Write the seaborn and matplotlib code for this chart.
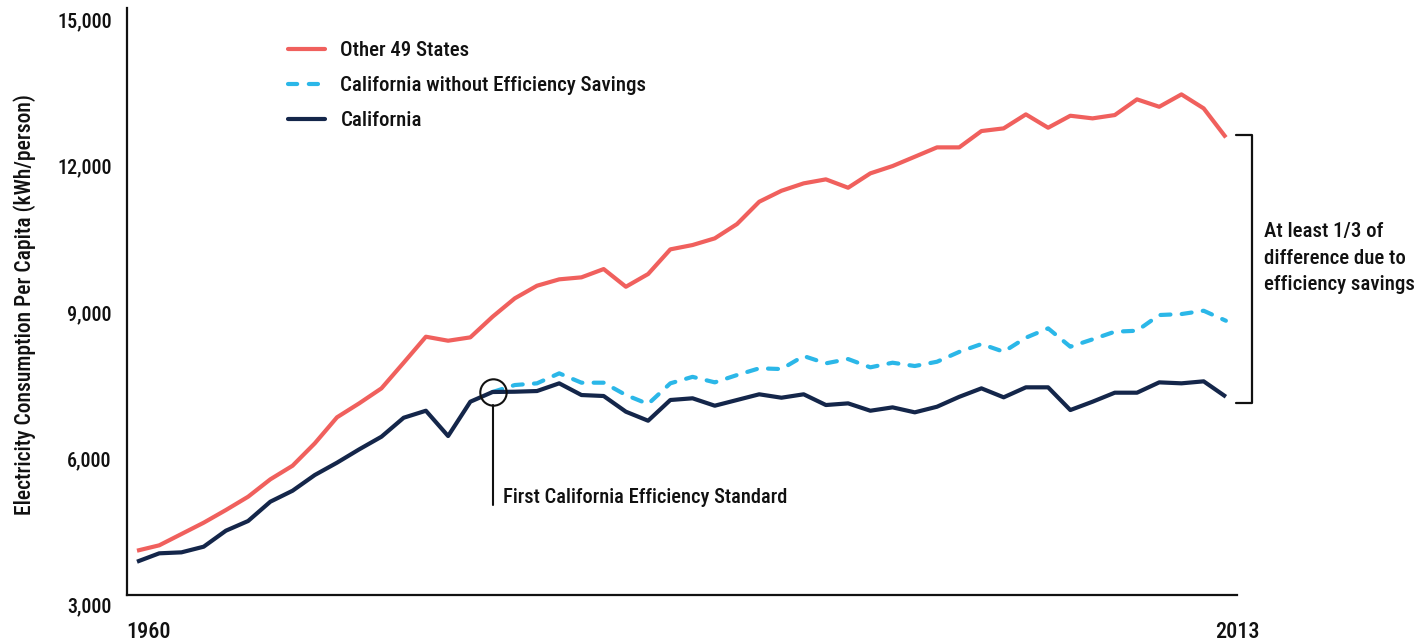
import numpy as np
import pandas as pd
import matplotlib
matplotlib.use("Agg")
import matplotlib.pyplot as plt
import seaborn as sns
from matplotlib.lines import Line2D
from matplotlib import font_manager as fm

# ---- data ----
idx = list(range(50))
other_states = [4114, 4224, 4456, 4688, 4948, 5221, 5578, 5857, 6316, 6850,
                7137, 7444, 7970, 8503, 8421, 8490, 8913, 9290, 9549, 9680,
                9721, 9891, 9528, 9789, 10295, 10384, 10521, 10814, 11272, 11497,
                11649, 11731, 11559, 11854, 12004, 12195, 12387, 12387, 12722, 12777,
                13064, 12790, 13036, 12982, 13050, 13372, 13220, 13474, 13187, 12592]
california = [3888, 4060, 4080, 4196, 4524, 4723, 5119, 5344, 5666, 5919,
              6193, 6452, 6841, 6985, 6466, 7170, 7369, 7375, 7389, 7547,
              7307, 7287, 6965, 6780, 7205, 7240, 7088, 7205, 7322, 7252,
              7322, 7102, 7136, 6985, 7054, 6952, 7067, 7270, 7444, 7260,
              7465, 7465, 6999, 7170, 7355, 7355, 7567, 7547, 7588, 7272]
ca_no_eff = [np.nan] * 16 + [7369, 7512, 7547, 7752, 7560, 7560, 7307, 7122, 7547,
             7680, 7567, 7717, 7855, 7840, 8107, 7957, 8045, 7875, 7970,
             7902, 7990, 8192, 8353, 8195, 8483, 8675, 8298, 8449, 8606,
             8626, 8948, 8968, 9036, 8831]
series_names = ["Other 49 States", "California without Efficiency Savings", "California"]
y_ticks = [3000, 6000, 9000, 12000, 15000]
x_tick_labels = ["1960", "2013"]

colors = {"Other 49 States": "#f0605d",
          "California without Efficiency Savings": "#2bb7e8",
          "California": "#14264a"}

df = pd.concat([
    pd.DataFrame({"idx": idx, "value": other_states, "series": series_names[0]}),
    pd.DataFrame({"idx": idx, "value": ca_no_eff, "series": series_names[1]}),
    pd.DataFrame({"idx": idx, "value": california, "series": series_names[2]}),
]).dropna()

sns.set_style("white")
names = {f.name for f in fm.fontManager.ttflist}
cands = ["Liberation Sans Narrow", "DejaVu Sans Condensed", "Roboto Condensed",
         "Open Sans Condensed", "Noto Sans Condensed", "DejaVu Sans"]
FONT = [c for c in cands if c in names] or ["DejaVu Sans"]
plt.rcParams["font.family"] = FONT
plt.rcParams["font.stretch"] = "condensed"
plt.rcParams["font.weight"] = "medium"
plt.rcParams["axes.labelweight"] = "medium"
TXT = "#111111"

fig = plt.figure(figsize=(14.25, 6.41), dpi=100)
ax = fig.add_axes([127 / 1425, 36 / 641, 1110 / 1425, 597 / 641])

sns.lineplot(data=df, x="idx", y="value", hue="series", style="series",
             hue_order=series_names, style_order=series_names,
             palette=colors, dashes={series_names[0]: "",
                                     series_names[1]: (2.4, 2.7),
                                     series_names[2]: ""},
             linewidth=3, ax=ax, legend=False, estimator=None, sort=True)
for ln in ax.get_lines():
    ln.set_dash_capstyle("round")
    ln.set_solid_capstyle("butt")

ax.set_xlim(-0.45, 49.5)
ax.set_ylim(3000, 15246)
ax.spines["top"].set_visible(False)
ax.spines["right"].set_visible(False)
ax.spines["bottom"].set_position(("data", 3205))
ax.spines["left"].set_bounds(3205, 15246)
for s in ("left", "bottom"):
    ax.spines[s].set_linewidth(1.6)
    ax.spines[s].set_color(TXT)

ax.set_xticks([0.5, 49.5])
ax.set_xticklabels(x_tick_labels)
ax.set_xticks(np.arange(1.5, 49, 1.0), minor=True)
ax.tick_params(axis="x", which="both", direction="out", length=7, width=1.3,
               color=TXT, labelsize=16, pad=12)
ax.set_yticks(y_ticks)
ax.set_yticklabels([f"{v:,}" for v in y_ticks])
ax.tick_params(axis="y", length=0, labelsize=14.5, pad=11)
for lab in ax.get_xticklabels() + ax.get_yticklabels():
    lab.set_color(TXT)
ax.set_xlabel("")
ax.set_ylabel("Electricity Consumption Per Capita (kWh/person)", fontsize=15.5,
              color=TXT, fontweight="medium")
ax.yaxis.set_label_coords(-0.082, 0.504)

# annotation: first efficiency standard
ax.plot([16], [california[16]], marker="o", markersize=19, mfc="none",
        mec=TXT, mew=1.5, zorder=5)
ax.plot([16, 16], [7102, 5051], color=TXT, lw=1.5, zorder=5)
ax.text(16.45, 5215, "First California Efficiency Standard", fontsize=14.8,
        color=TXT, va="center", ha="left")

# bracket on the right
bx0, bx1 = 49.45, 50.18
ax.plot([bx0, bx1, bx1, bx0], [12640, 12640, 7153, 7153], color=TXT,
        lw=1.6, clip_on=False)
ax.text(50.72, 10117, "At least 1/3 of\ndifference due to\nefficiency savings",
        fontsize=15, color=TXT, va="center", ha="left", linespacing=1.5,
        clip_on=False)

handles = [Line2D([], [], color=colors[series_names[0]], lw=3),
           Line2D([], [], color=colors[series_names[1]], lw=3, dashes=(2.2, 2.8),
                  dash_capstyle="round"),
           Line2D([], [], color=colors[series_names[2]], lw=3)]
leg = ax.legend(handles, series_names, loc="upper left", bbox_to_anchor=(0.145, 0.945),
                frameon=False, fontsize=15, handlelength=1.8, handletextpad=0.72,
                labelspacing=0.78, borderpad=0, borderaxespad=0)
for t in leg.get_texts():
    t.set_color(TXT)

fig.savefig("out.png", dpi=100)
